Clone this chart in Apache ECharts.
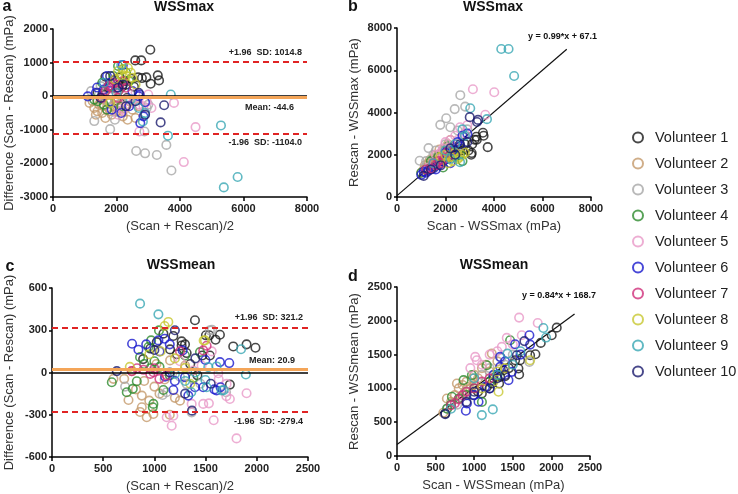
<!DOCTYPE html>
<html>
<head>
<meta charset="utf-8">
<script src="https://cdn.jsdelivr.net/npm/echarts@6/dist/echarts.min.js"></script>
<style>
  html, body { margin: 0; padding: 0; background: #fff; }
  #main { width: 738px; height: 494px; }
</style>
</head>
<body>
<div id="main"></div>
<script>
// volunteers + colours
var volunteers = ['Volunteer 1','Volunteer 2','Volunteer 3','Volunteer 4','Volunteer 5',
                  'Volunteer 6','Volunteer 7','Volunteer 8','Volunteer 9','Volunteer 10']
var colors = ['#1a1a1a','#c49a6c','#a8a8a8','#2e8b2e','#e89ac8',
              '#1a1acd','#d0307a','#c8c832','#3aa8b4','#1c1c6e']

// a : WSSmax Bland-Altman  [mean, diff]
var baMax = [
  [[3065,1384],[2590,1066],[2780,1066],[3300,620],[3340,470],[3075,372],[2940,560],[2680,560],[2800,540],[1650,580],[1960,490],[2080,330],[2180,290],[2300,340],[1590,25],[1990,-130],[1560,75],[2330,-55],[2460,520],[1800,250],[2250,450],[1400,100],[2100,560],[2550,280]],
  [[1150,-200],[1300,-350],[1400,-450],[1550,-500],[1700,-400],[1850,-550],[2000,-450],[2200,-600],[2350,-700],[2600,-650],[1250,-150],[1450,-250],[1600,-300],[1750,-200],[1900,-300],[2100,-350],[2300,-300],[2500,-400],[1350,-550],[1650,-650],[2050,-250],[1500,-100],[2400,-150],[1800,-450],[1950,-150],[2200,-450],[2700,-300]],
  [[1300,-740],[1800,-980],[2620,-1630],[2900,-1700],[3270,-1750],[3570,-1450],[3730,-2210],[2880,-1050],[1950,-700],[1200,150],[2150,-200],[2950,-350],[1700,-100],[2400,-100],[3000,-250],[1500,300]],
  [[1400,-150],[1550,400],[1750,300],[1900,600],[2050,900],[2200,800],[2300,700],[1600,-250],[1850,50],[2050,150],[1300,-100],[2400,450],[1700,-400],[2150,-300]],
  [[3810,-200],[4490,-920],[4120,-1960],[2720,-1050],[2700,-250],[2850,-300],[2950,-150],[3000,50],[2500,-200],[2600,100],[2200,-400],[1900,200],[2050,-550],[1600,0],[3100,-350],[2300,-100]],
  [[1095,-5],[1390,260],[1700,600],[1800,400],[2000,250],[2200,930],[2730,45],[2700,0],[2150,-500],[1850,-400],[2400,-300],[2900,-180],[2850,-600],[2750,-800],[1600,200],[1350,100],[2500,150]],
  [[1550,-50],[1750,300],[1900,400],[2000,350],[2100,200],[2200,450],[1650,150],[2050,-50],[1850,250],[2300,250]],
  [[2050,750],[2200,800],[2360,840],[2450,700],[2500,550],[2300,600],[1950,500],[2150,620],[2600,350],[1800,-200]],
  [[5380,-2714],[5815,-2405],[5290,-870],[3710,50],[3620,-1175],[2830,-750],[2150,930],[2450,-100],[1600,400],[2700,-350],[2000,100],[2900,-500]],
  [[3500,-270],[3390,-780],[2700,100],[2050,250],[1800,600],[2300,-300],[2900,-550],[1500,-50],[2600,-150],[2200,350]]
]
// b : WSSmax scan vs rescan
var regMax = [
  [[3545,3040],[3570,2900],[3740,2360],[3270,2850],[3200,2710],[2950,2200],[2330,2360],[2540,2155],[2200,1920],[1550,1560],[3060,2000],[3080,2080],[3290,2710],[2800,2500],[2600,2300],[2100,2050],[1800,1700],[1500,1450],[2400,1950],[2700,2200],[3100,2500],[2000,1800]],
  [[1000,1150],[1100,1300],[1200,1400],[1300,1600],[1400,1500],[1500,1800],[1600,1700],[1700,2000],[1800,1900],[1900,2200],[2000,2300],[2100,2500],[2200,2700],[1250,1200],[1450,1650],[1650,1850],[1850,2100],[1350,1750],[1550,1950],[2300,2400],[1150,1500],[1750,2250]],
  [[2610,4820],[2380,4160],[2030,3730],[1785,3415],[1300,2315],[935,1715],[2810,4280],[1600,2200],[2200,3300],[2500,3150],[1200,1700],[2000,2500],[2900,3200],[1500,2000]],
  [[1200,1300],[1500,1400],[1800,1600],[2000,1900],[2300,2100],[2600,2000],[2700,1700],[1400,1700],[1700,1900],[2100,2400],[1000,1150],[2400,1900],[1900,1400]],
  [[3130,5100],[4010,4960],[3640,3890],[2800,3000],[2600,3300],[2400,2900],[2200,2700],[2000,2600],[1900,2300],[1600,2000],[2900,3400],[1300,1400],[2500,2700],[1800,2100]],
  [[1000,1050],[1100,1200],[1300,1250],[1500,1350],[1700,1500],[1900,1700],[2100,1800],[2300,2200],[2500,2600],[2700,2900],[2900,3000],[1200,1150],[2000,2100],[1600,1300],[2600,2400],[2200,1600]],
  [[1200,1300],[1400,1350],[1600,1500],[1800,1600],[2000,1850],[2200,2000],[1500,1600],[1900,1750],[2100,2150],[1700,1700]],
  [[2300,1700],[2500,1800],[2600,1900],[2700,2000],[2400,2100],[2200,1900],[2800,2100],[2000,2000],[1800,1900],[2100,1600]],
  [[4300,7007],[4600,7007],[4830,5730],[3020,4200],[3710,3685],[2600,1650],[2400,2500],[2000,2200],[1500,1600],[2800,2900],[2200,1800],[2700,3200]],
  [[3000,3780],[3340,3650],[3300,3550],[2900,2600],[2600,2500],[2200,2300],[1800,1500],[1400,1300],[1100,1000],[2400,2000]]
]
// c : WSSmean Bland-Altman
var baMean = [
  [[1396,371],[1299,200],[1266,192],[1503,264],[1536,264],[1597,233],[1640,268],[1770,185],[1900,200],[1987,176],[1737,-86],[1542,121],[1468,121],[1315,138],[1185,259],[1088,276],[1023,216],[1153,164],[1266,221],[960,170],[890,95],[1220,130],[1350,60],[1420,-20]],
  [[600,-45],[747,-195],[877,-164],[925,-318],[877,-247],[990,-295],[1250,-200],[705,-45],[1153,86],[820,-120],[950,-200],[1000,-100],[1050,-150],[1100,-50],[1200,-180],[780,10],[900,-60],[1150,-300],[1300,50],[1020,60],[860,-280]],
  [[1542,299],[714,-100],[1120,-140],[1315,-81],[1364,-283],[1563,303],[1080,-160],[1700,-140],[1000,20],[1250,-30],[1450,-80]],
  [[1045,299],[968,228],[942,181],[860,109],[990,-223],[984,-247],[828,-62],[789,-116],[730,-140],[584,-69],[1088,-124],[1445,145],[1380,-38],[1299,121],[900,60],[1000,80],[1050,40],[960,30],[1150,-20]],
  [[1802,-468],[1579,-339],[1532,-219],[1477,-223],[1364,-223],[1185,-307],[1169,-378],[1120,-318],[1737,-188],[1900,-147],[1705,-81],[1624,-5],[1461,50],[1380,14],[1703,-168],[1628,-48],[1250,80],[1560,150]],
  [[782,204],[844,162],[1039,228],[1640,74],[1731,67],[1607,-128],[1646,-105],[1477,-105],[1396,-105],[1185,-124],[1104,-29],[1331,-164],[1276,157],[1299,-33],[1100,240],[1150,200],[920,200],[1498,89],[1586,-120],[1200,-60],[1050,150]],
  [[779,10],[893,19],[990,2],[1049,-45],[1477,157],[960,-10],[1000,30],[1120,-20],[830,30],[1250,150],[1510,190]],
  [[1136,359],[1494,228],[1299,33],[1481,227],[1100,330],[1060,150],[1200,100],[950,130],[1350,-80],[760,40]],
  [[860,489],[1039,413],[1893,-14],[1846,165],[1526,38],[1607,43],[1510,-105],[1656,-128],[1498,-53],[1677,-125],[1300,-60],[1200,-10],[1400,0],[1360,-140]],
  [[633,10],[1367,-271],[1200,300],[1400,100],[1300,-150],[1000,160],[1150,0],[1550,-80]]
]
// d : WSSmean scan vs rescan
var regMean = [
  [[2069,1899],[2004,1786],[1862,1673],[1793,1505],[1724,1491],[1595,1417],[1573,1294],[1582,1205],[1530,1417],[1379,1269],[1336,1171],[1323,1072],[1228,1072],[1164,1023],[1099,925],[991,900],[625,630],[1250,1150],[1400,1180],[1050,950],[1450,1300]],
  [[646,851],[776,1072],[1228,1515],[800,1000],[850,1050],[900,1100],[950,1000],[1000,1050],[1050,1150],[880,950],[920,1020],[980,1150],[1100,1300],[1150,1350],[750,900],[700,800],[1200,1250],[1300,1400],[1000,1200],[830,870],[600,640]],
  [[1715,1392],[646,703],[1200,1300],[1350,1450],[1100,1200],[1500,1500],[900,950],[1400,1350],[780,760]],
  [[711,876],[862,1122],[970,1196],[1164,1343],[1465,1712],[700,760],[800,850],[900,900],[1000,1000],[1200,1100],[1300,1200],[650,700],[1100,800]],
  [[1582,2047],[1823,1968],[1616,1786],[1422,1747],[1358,1614],[1034,1417],[1013,1466],[1100,1350],[1200,1500],[1500,1650],[1300,1550],[950,1300]],
  [[1715,1786],[1724,1648],[1530,1653],[1444,1122],[1487,1245],[1336,1466],[1142,1023],[1056,802],[905,777],[892,669],[1336,1319],[1600,1500],[1250,1200],[1400,1400],[1000,900],[1200,1000]],
  [[797,836],[750,780],[850,900],[900,950],[1000,1000],[1100,1100],[1200,1150],[700,750]],
  [[1315,950],[1724,1417],[1250,1100],[1400,1300],[1100,1000],[1300,1250]],
  [[1896,1894],[1931,1752],[1099,605],[1241,689],[1431,1515],[1600,1550],[1300,1200],[1000,1150],[1500,1350],[700,700]],
  [[625,620],[1552,1491],[1400,1200],[1200,1000],[1000,950],[900,800],[1650,1700],[1300,1150]]
]

// reference lines: [+1.96 SD, mean, -1.96 SD]
var limitsMax = [1014.8, -44.6, -1104.0]
var limitsMean = [321.2, 20.9, -279.4]
// regression: slope, intercept, x range
var fitMax = [0.99, 67.1]
var fitMaxX = [0, 7000]
var fitMean = [0.84, 168.7]
var fitMeanX = [0, 2300]

var FONT = 'Liberation Sans'

function plain(v){ return String(v) }

function xAx(idx, max, step, name){
  return {
    gridIndex: idx, type: 'value', min: 0, max: max, interval: step,
    name: name, nameLocation: 'middle', nameGap: 23,
    nameTextStyle: {fontFamily: FONT, fontSize: 13, color: '#333'},
    axisLine: {onZero: false, lineStyle: {color: '#000', width: 1.5}},
    axisTick: {length: 4, lineStyle: {color: '#000', width: 1.5}},
    axisLabel: {fontFamily: FONT, fontSize: 11, fontWeight: 'bold', color: '#222', margin: 6, formatter: plain},
    splitLine: {show: false}
  }
}
function yAx(idx, min, max, step, name){
  return {
    gridIndex: idx, type: 'value', min: min, max: max, interval: step,
    name: name, nameLocation: 'middle', nameGap: 36,
    nameTextStyle: {fontFamily: FONT, fontSize: 13, color: '#333'},
    axisLine: {onZero: false, lineStyle: {color: '#000', width: 1.5}},
    axisTick: {length: 3, lineStyle: {color: '#000', width: 1.5}},
    axisLabel: {fontFamily: FONT, fontSize: 11, fontWeight: 'bold', color: '#222', margin: 5, formatter: plain},
    splitLine: {show: false}
  }
}

// 横线 (limits, mean, zero)
function baLines(lim, meanPos){
  var lbl = {fontFamily: FONT, fontSize: 9, fontWeight: 'bold', color: '#222'}
  var red = {color: '#e02424', width: 2.2, type: [6, 4]}
  return {
    symbol: ['none','none'], silent: true, animation: false,
    data: [
      {yAxis: 0, lineStyle: {color: '#000', width: 1.5, type: 'solid'}, label: {show: false}},
      {yAxis: lim[1], lineStyle: {color: '#f4a558', width: 3, type: 'solid'},
       label: Object.assign({show: true, position: meanPos, formatter: 'Mean: ' + lim[1].toFixed(1), padding: [0, 8, 0, 0]}, lbl)},
      {yAxis: lim[0], lineStyle: red,
       label: Object.assign({show: true, position: 'insideEndTop', formatter: '+1.96  SD: ' + lim[0].toFixed(1)}, lbl)},
      {yAxis: lim[2], lineStyle: red,
       label: Object.assign({show: true, position: 'insideEndBottom', formatter: '-1.96  SD: ' + lim[2].toFixed(1)}, lbl)}
    ]
  }
}

var series = []
// regression lines first so they sit under the circles
series.push({type: 'line', xAxisIndex: 1, yAxisIndex: 1, symbol: 'none', silent: true, z: 1,
  lineStyle: {color: '#111', width: 1.2},
  data: fitMaxX.map(function(x){ return [x, fitMax[0]*x + fitMax[1]] })})
series.push({type: 'line', xAxisIndex: 3, yAxisIndex: 3, symbol: 'none', silent: true, z: 1,
  lineStyle: {color: '#111', width: 1.2},
  data: fitMeanX.map(function(x){ return [x, fitMean[0]*x + fitMean[1]] })})

var panels = [baMax, regMax, baMean, regMean]
for (var p = 0; p < panels.length; p++) {
  for (var v = 0; v < volunteers.length; v++) {
    var s = {
      type: 'scatter', name: volunteers[v], xAxisIndex: p, yAxisIndex: p,
      symbol: 'circle', symbolSize: 8.5, z: 3,
      itemStyle: {color: 'rgba(255,255,255,0)', borderColor: colors[v], borderWidth: 1.6},
      data: panels[p][v]
    }
    if (v == 0 && p == 0) s.markLine = baLines(limitsMax, 'insideEndBottom')
    if (v == 0 && p == 2) s.markLine = baLines(limitsMean, 'insideEndTop')
    series.push(s)
  }
}

function txt(x, y, t, size, align){
  return {type: 'text', x: x, y: y, silent: true,
    style: {text: t, font: 'bold ' + size + 'px ' + FONT, fill: '#111', align: align || 'center', verticalAlign: 'middle'}}
}

var chart = echarts.init(document.getElementById('main'))
chart.setOption({
  animation: false,
  backgroundColor: '#fff',
  color: colors,
  grid: [
    {left: 53, top: 29, width: 254, height: 168},
    {left: 397, top: 28, width: 194, height: 169},
    {left: 52, top: 288, width: 256, height: 169},
    {left: 397, top: 287, width: 193, height: 169}
  ],
  xAxis: [
    xAx(0, 8000, 2000, '(Scan + Rescan)/2'),
    xAx(1, 8000, 2000, 'Scan - WSSmax (mPa)'),
    xAx(2, 2500, 500, '(Scan + Rescan)/2'),
    xAx(3, 2500, 500, 'Scan - WSSmean (mPa)')
  ],
  yAxis: [
    yAx(0, -3000, 2000, 1000, 'Difference (Scan - Rescan) (mPa)'),
    yAx(1, 0, 8000, 2000, 'Rescan - WSSmax (mPa)'),
    yAx(2, -600, 600, 300, 'Difference (Scan - Rescan) (mPa)'),
    yAx(3, 0, 2500, 500, 'Rescan - WSSmean (mPa)')
  ],
  legend: {
    data: volunteers, orient: 'vertical', left: 627, top: 125,
    icon: 'circle', itemWidth: 10, itemHeight: 10, itemGap: 11,
    itemStyle: {borderWidth: 2},
    textStyle: {fontFamily: FONT, fontSize: 14.5, color: '#222', lineHeight: 14, padding: [0, 0, 0, 7]}
  },
  graphic: [
    txt(7, 7, 'a', 16), txt(353, 7, 'b', 16), txt(10, 267, 'c', 16), txt(353, 277, 'd', 16),
    txt(184, 7, 'WSSmax', 14), txt(493, 7, 'WSSmax', 14),
    txt(181, 265, 'WSSmean', 14), txt(494, 265, 'WSSmean', 14),
    txt(597, 37, 'y = ' + fitMax[0] + '*x + ' + fitMax[1], 9, 'right'),
    txt(596, 296, 'y = ' + fitMean[0] + '*x + ' + fitMean[1], 9, 'right')
  ],
  series: series
})
</script>
</body>
</html>
